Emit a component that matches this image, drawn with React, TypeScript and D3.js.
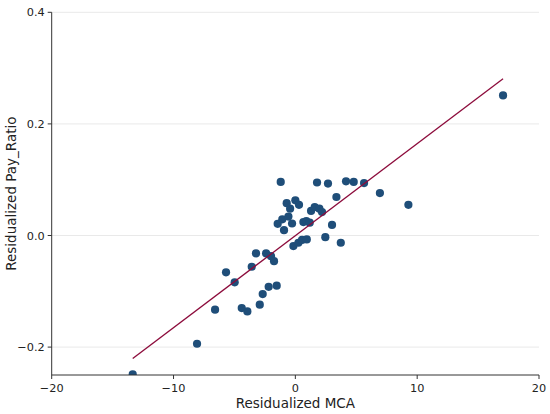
import { useMemo } from "react";
import * as d3 from "d3";

// residualized MCA (x) vs residualized Pay_Ratio (y)
const mcaResid = [
  -13.35, -8.07, -6.59, -5.69, -4.98, -4.4, -3.94, -3.58, -3.23, -2.92,
  -2.68, -2.4, -2.19, -2.0, -1.75, -1.53, -1.45, -1.07, -0.93, -0.57,
  -0.27, -0.43, -0.71, 0.0, 0.3, -1.2, -0.16, 0.25, 0.55, 0.94,
  0.66, 0.9, 1.18, 1.29, 1.59, 1.97, 2.19, 1.78, 2.68, 3.37,
  3.01, 2.46, 3.73, 4.16, 4.79, 5.64, 6.94, 9.28, 17.05,
];
const payResid = [
  -0.249, -0.194, -0.133, -0.066, -0.084, -0.13, -0.136, -0.056, -0.032, -0.124,
  -0.105, -0.032, -0.092, -0.037, -0.046, -0.09, 0.021, 0.029, 0.0095, 0.034,
  0.0215, 0.048, 0.058, 0.063, 0.055, 0.096, -0.019, -0.013, -0.008, -0.007,
  0.024, 0.026, 0.023, 0.044, 0.051, 0.048, 0.042, 0.095, 0.093, 0.069,
  0.019, -0.003, -0.013, 0.097, 0.096, 0.094, 0.076, 0.055, 0.251,
];

// OLS fit line
const fitSlope = 0.0165;
const fitIntercept = -0.0003;

const xTicks = [-20, -10, 0, 10, 20];
const yTicks = [-0.2, 0.0, 0.2, 0.4];

const W = 550;
const H = 414;
const FONT = "DejaVu Sans, sans-serif";

export default function App() {
  const x = useMemo(() => d3.scaleLinear().domain([-20, 20]).range([51.7, 539]), []);
  const y = useMemo(() => d3.scaleLinear().domain([-0.25, 0.4]).range([375, 12.3]), []);

  const pts = mcaResid.map((v, i) => [v, payResid[i]] as [number, number]);
  const [xMin, xMax] = d3.extent(mcaResid) as [number, number];
  const fitLine = d3
    .line<number>()
    .x((d) => x(d))
    .y((d) => y(fitIntercept + fitSlope * d))([xMin, xMax]);

  const [x0, x1] = x.range();
  const [y0, y1] = y.range();

  return (
    <svg
      width={W}
      height={H}
      style={{ position: "absolute", left: 0, top: 0, background: "#fff" }}
      fontFamily={FONT}
    >
      <defs>
        <clipPath id="plot">
          <rect x={x0} y={y1} width={x1 - x0} height={y0 - y1} />
        </clipPath>
      </defs>

      {/* horizontal grid */}
      {yTicks.map((t) => (
        <line key={t} x1={x0} x2={x1} y1={y(t)} y2={y(t)} stroke="#e6e6e6" strokeWidth={0.9} />
      ))}

      <g clipPath="url(#plot)">
        {pts.map(([a, b], i) => (
          <circle key={i} cx={x(a)} cy={y(b)} r={4.1} fill="#1f4e79" />
        ))}
        <path d={fitLine ?? ""} fill="none" stroke="#8c0b3b" strokeWidth={1.3} />
      </g>

      {/* spines */}
      <line x1={x0} x2={x0} y1={y1} y2={y0} stroke="#333" strokeWidth={1} />
      <line x1={x0} x2={x1} y1={y0} y2={y0} stroke="#333" strokeWidth={1} />

      {/* y ticks */}
      {yTicks.map((t) => (
        <g key={t} transform={`translate(${x0},${y(t)})`}>
          <line x1={-4} x2={0} stroke="#333" strokeWidth={1} />
          <text x={-7} dy="0.36em" textAnchor="end" fontSize={11.3} fill="#222">
            {d3.format(".1f")(t).replace("-", "\u2212")}
          </text>
        </g>
      ))}

      {/* x ticks */}
      {xTicks.map((t) => (
        <g key={t} transform={`translate(${x(t)},${y0})`}>
          <line y1={0} y2={4} stroke="#333" strokeWidth={1} />
          <text y={16.5} textAnchor="middle" fontSize={11.3} fill="#222">
            {String(t).replace("-", "\u2212")}
          </text>
        </g>
      ))}

      <text x={(x0 + x1) / 2} y={407.5} textAnchor="middle" fontSize={13.5} fill="#222">
        Residualized MCA
      </text>
      <text
        transform={`translate(15.8,${(y0 + y1) / 2}) rotate(-90)`}
        textAnchor="middle"
        fontSize={13.5}
        fill="#222"
      >
        Residualized Pay_Ratio
      </text>
    </svg>
  );
}
